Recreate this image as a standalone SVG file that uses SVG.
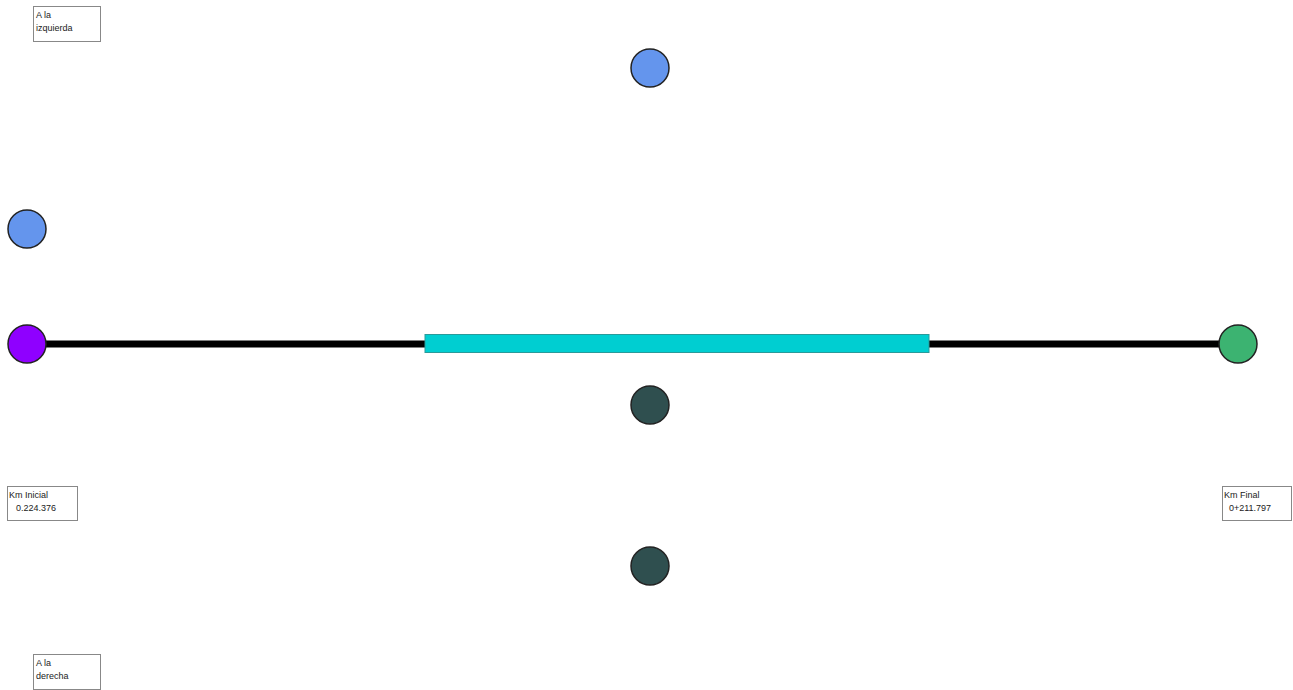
<svg xmlns="http://www.w3.org/2000/svg" width="1293" height="690" viewBox="0 0 1293 690">
<style>
.lbl{fill:#fff;stroke:#888;stroke-width:1}
.t{font-family:"Liberation Sans",Arial,sans-serif;font-size:9px;fill:#222}
.n{stroke:#222;stroke-width:1.5}
</style>
<rect width="1293" height="690" fill="#fff"/>
<g id="connectors">
<line x1="27" y1="344" x2="1238" y2="344" stroke="#000" stroke-width="7"/>
</g>
<g id="segment"><rect x="425" y="334.5" width="504" height="18" fill="#00ced1" stroke="#2a9a9a" stroke-width="1"/></g>
<g id="node-start"><circle class="n" cx="27" cy="344" r="19" fill="#8f00ff"/></g>
<g id="node-end"><circle class="n" cx="1238" cy="344" r="19" fill="#3cb371"/></g>
<g id="node-left1"><circle class="n" cx="27" cy="229" r="19" fill="#6495ed"/></g>
<g id="node-left2"><circle class="n" cx="650" cy="68" r="19" fill="#6495ed"/></g>
<g id="node-right1"><circle class="n" cx="650" cy="405" r="19" fill="#2f4f4f"/></g>
<g id="node-right2"><circle class="n" cx="650" cy="566" r="19" fill="#2f4f4f"/></g>
<g id="label-izq"><rect class="lbl" x="33.5" y="6.5" width="67" height="35"/><text class="t" x="36" y="18">A la</text><text class="t" x="36" y="31">izquierda</text></g>
<g id="label-der"><rect class="lbl" x="33.5" y="654.5" width="67" height="35"/><text class="t" x="36" y="666">A la</text><text class="t" x="36" y="679">derecha</text></g>
<g id="label-ini"><rect class="lbl" x="7.5" y="486.5" width="70" height="34"/><text class="t" x="9" y="498">Km Inicial</text><text class="t" x="16" y="511">0.224.376</text></g>
<g id="label-fin"><rect class="lbl" x="1222.5" y="486.5" width="69" height="34"/><text class="t" x="1224" y="498">Km Final</text><text class="t" x="1229" y="511">0+211.797</text></g>
</svg>
